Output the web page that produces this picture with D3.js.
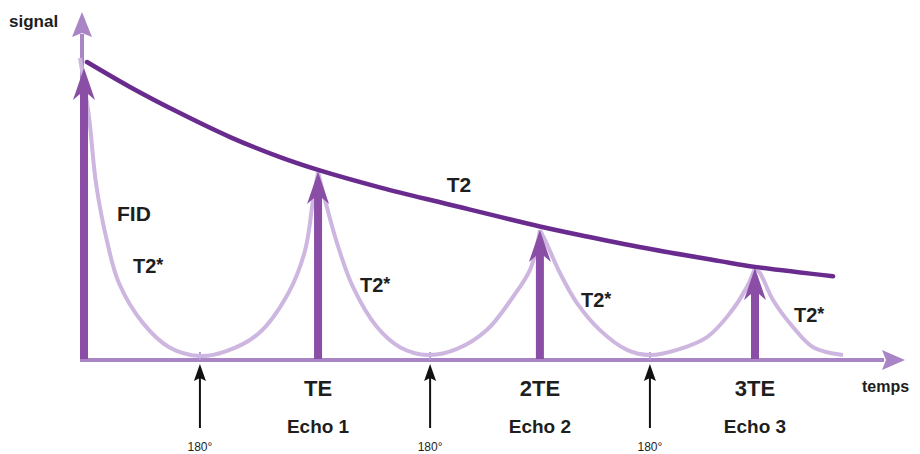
<!DOCTYPE html>
<html>
<head>
<meta charset="utf-8">
<script src="https://cdn.jsdelivr.net/npm/d3@7"></script>
<style>
  body { margin: 0; background: #fff; }
  text { font-family: "Liberation Sans", Arial, sans-serif; fill: #1e1e1e; }
</style>
</head>
<body>
<div id="chart"></div>
<script>
var width = 920, height = 454;

// echo peaks: time (arbitrary units) and signal (% of initial)
var echoTimes   = [0, 10.58, 20.44, 30.0];
var echoSignals = [95.7, 61.5, 42.4, 29.9];
var echoLabels  = ["", "TE", "2TE", "3TE"];
var echoNames   = ["", "Echo 1", "Echo 2", "Echo 3"];

// 180° refocusing pulses
var pulseTimes = [5.33, 15.56, 25.33];
var pulseLabel = "180°";

// T2 envelope
var t2Times   = [0.31, 2.22, 4.44, 6.67, 8.89, 10.58, 13.4, 16.31, 20.44, 22.53, 25.47, 28.44, 30.0, 33.47];
var t2Signals = [97.7, 89.5, 80.9, 73.0, 66.4, 62.2, 56.3, 51.0, 43.6, 40.3, 36.0, 32.2, 30.3, 27.2];

// T2* lobes (FID, then echo rise/fall)
var fidTimes    = [0, 0.40, 0.71, 1.16, 1.73, 2.8, 3.96, 5.33, 6.44, 7.91, 9.24, 10.0, 10.36, 10.58];
var fidSignals  = [99, 79.6, 57.9, 40.1, 25.0, 11.8, 3.9, 1.0, 2.4, 8.2, 21.4, 35.6, 52.3, 61.5];
var lobe1Times   = [10.58, 10.89, 11.42, 12.13, 13.2, 14.22, 15.47, 16.76, 18.09, 19.24, 20.0, 20.36, 20.44];
var lobe1Signals = [61.5, 52.3, 38.2, 23.7, 10.5, 3.9, 1.3, 3.3, 9.6, 20.4, 29.3, 39.1, 42.4];
var lobe2Times   = [20.44, 20.67, 21.33, 22.09, 23.11, 24.31, 25.33, 26.53, 27.87, 28.89, 29.64, 30.0];
var lobe2Signals = [42.4, 39.1, 28.3, 18.4, 9.5, 3.0, 1.3, 3.0, 7.2, 15.1, 23.7, 29.9];
var lobe3Times   = [30.0, 30.22, 30.8, 31.69, 32.58, 33.91];
var lobe3Signals = [29.9, 28.3, 19.4, 10.5, 3.9, 1.3];

var svg = d3.select("#chart").append("svg")
    .attr("width", width)
    .attr("height", height);

var x = d3.scaleLinear().domain([0, 30]).range([80, 755]);
var y = d3.scaleLinear().domain([0, 100]).range([359, 55]);

var axisColor = "#a985c6";
var lobeColor = "#cdb6df";
var echoColor = "#8a4ea6";
var t2Color = "#6a2b8f";

var zip = function(ts, ss) { return ts.map(function(t, i) { return [t, ss[i]]; }); };

var line = d3.line()
    .x(function(d) { return x(d[0]); })
    .y(function(d) { return y(d[1]); })
    .curve(d3.curveCatmullRom.alpha(0.5));

// axes
var x0 = x(0), base = y(0) + 1;
svg.append("line")
    .attr("x1", x0).attr("x2", 884)
    .attr("y1", base).attr("y2", base)
    .attr("stroke", axisColor).attr("stroke-width", 4);
svg.append("path")
    .attr("d", `M905,${base} L882,${base - 10} L886,${base} L882,${base + 10} Z`)
    .attr("fill", axisColor);
svg.append("line")
    .attr("x1", x0 + 2).attr("x2", x0 + 2)
    .attr("y1", base + 2).attr("y2", 34)
    .attr("stroke", axisColor).attr("stroke-width", 4);
svg.append("path")
    .attr("d", `M${x0 + 2},12 L${x0 + 12},37 L${x0 + 2},33 L${x0 - 8},37 Z`)
    .attr("fill", axisColor);

// small marks on the baseline at each pulse
svg.selectAll(".pmark")
    .data(pulseTimes)
    .enter().append("line")
    .attr("x1", function(d) { return x(d); }).attr("x2", function(d) { return x(d); })
    .attr("y1", base - 8).attr("y2", base)
    .attr("stroke", "#b79ad0").attr("stroke-width", 2);

// T2* lobes
var lobes = [zip(fidTimes, fidSignals), zip(lobe1Times, lobe1Signals),
             zip(lobe2Times, lobe2Signals), zip(lobe3Times, lobe3Signals)];
svg.selectAll(".lobe")
    .data(lobes)
    .enter().append("path")
    .attr("d", line)
    .attr("fill", "none")
    .attr("stroke", lobeColor)
    .attr("stroke-width", 4);

// echo arrows
var echoes = echoTimes.map(function(t, i) { return {t: t, s: echoSignals[i], label: echoLabels[i], name: echoNames[i]}; });
svg.selectAll(".echo")
    .data(echoes)
    .enter().append("path")
    .attr("d", function(d, i) {
        var cx = x(d.t) + (i === 0 ? 4 : 0), top = y(d.s), b = base - 1;
        var hw = 11, hl = 32, sw = 4;
        return `M${cx - sw},${b} L${cx - sw},${top + hl - 6} L${cx - hw},${top + hl} L${cx},${top}` +
               ` L${cx + hw},${top + hl} L${cx + sw},${top + hl - 6} L${cx + sw},${b} Z`;
    })
    .attr("fill", echoColor);

// T2 envelope
svg.append("path")
    .attr("d", line(zip(t2Times, t2Signals)))
    .attr("fill", "none")
    .attr("stroke", t2Color)
    .attr("stroke-width", 4.5)
    .attr("stroke-linecap", "round");

// 180° pulse arrows
var pulses = svg.selectAll(".pulse")
    .data(pulseTimes)
    .enter().append("g");
pulses.append("line")
    .attr("x1", function(d) { return x(d); }).attr("x2", function(d) { return x(d); })
    .attr("y1", 428).attr("y2", 376)
    .attr("stroke", "#111").attr("stroke-width", 2);
pulses.append("path")
    .attr("d", function(d) { var c = x(d); return `M${c},364 L${c + 6},381 L${c},378 L${c - 6},381 Z`; })
    .attr("fill", "#111");
pulses.append("text")
    .attr("x", function(d) { return x(d); })
    .attr("y", 451)
    .attr("text-anchor", "middle")
    .style("font-size", "12px")
    .text(pulseLabel);

// echo labels
var labelled = echoes.filter(function(d) { return d.label; });
svg.selectAll(".elabel")
    .data(labelled)
    .enter().append("text")
    .attr("x", function(d) { return x(d.t); })
    .attr("y", 396)
    .attr("text-anchor", "middle")
    .style("font-size", "22px").style("font-weight", "bold")
    .text(function(d) { return d.label; });
svg.selectAll(".ename")
    .data(labelled)
    .enter().append("text")
    .attr("x", function(d) { return x(d.t); })
    .attr("y", 433)
    .attr("text-anchor", "middle")
    .style("font-size", "19px").style("font-weight", "bold")
    .text(function(d) { return d.name; });

// axis titles
svg.append("text").attr("x", 9).attr("y", 27)
    .style("font-size", "17px").style("font-weight", "bold").text("signal");
svg.append("text").attr("x", 862).attr("y", 392)
    .style("font-size", "16px").style("font-weight", "bold").text("temps");

// curve labels
svg.append("text").attr("x", 459).attr("y", 192).attr("text-anchor", "middle")
    .style("font-size", "21px").style("font-weight", "bold").text("T2");
svg.append("text").attr("x", 117).attr("y", 221)
    .style("font-size", "21px").style("font-weight", "bold").text("FID");

var starSpots = [[133, 273], [360, 292], [581, 307], [794, 322]];
starSpots.forEach(function(p) {
    var t = svg.append("text").attr("x", p[0]).attr("y", p[1])
        .style("font-size", "20px").style("font-weight", "bold");
    t.append("tspan").text("T2");
    t.append("tspan").attr("dy", -2).style("font-size", "18px").text("*");
});
</script>
</body>
</html>
